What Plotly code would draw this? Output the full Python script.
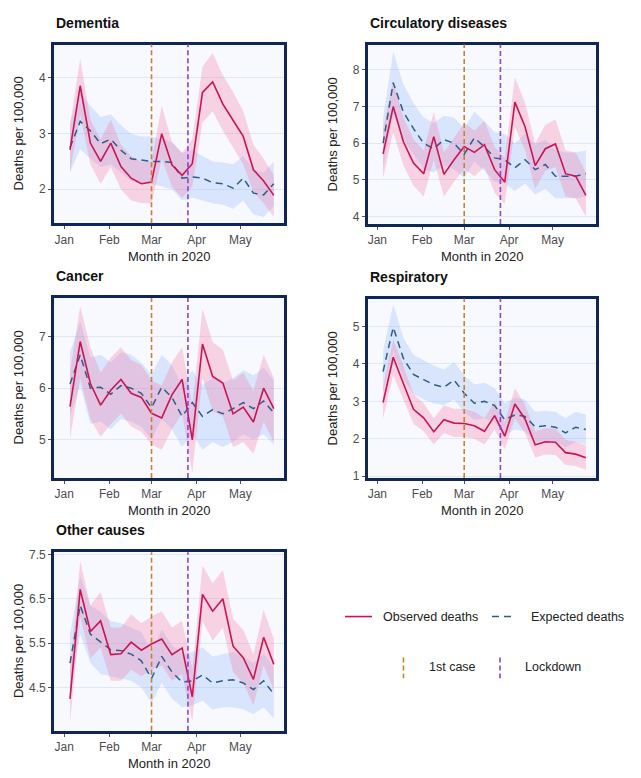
import plotly.graph_objects as go
import pandas as pd

# ---------------- data ----------------
weeks = pd.date_range("2020-01-05", periods=21, freq="7D").strftime("%Y-%m-%d").tolist()

panel_titles = ["Dementia", "Circulatory diseases", "Cancer", "Respiratory", "Other causes"]

dementia_obs = [2.71, 3.86, 2.83, 2.50, 2.83, 2.41, 2.20, 2.10, 2.13, 3.00, 2.44, 2.25, 2.46, 3.74, 3.93, 3.53, 3.24, 2.95, 2.35, 2.15, 1.89]
dementia_obs_lo = [2.30, 3.35, 2.45, 2.10, 2.40, 2.00, 1.80, 1.75, 1.75, 2.55, 2.05, 1.85, 2.05, 3.20, 3.40, 3.05, 2.75, 2.45, 1.95, 1.75, 1.50]
dementia_obs_hi = [3.15, 4.35, 3.25, 2.90, 3.25, 2.80, 2.60, 2.50, 2.50, 3.50, 2.85, 2.65, 2.90, 4.20, 4.45, 4.05, 3.75, 3.40, 2.80, 2.55, 2.25]
dementia_exp = [2.75, 3.22, 3.05, 2.82, 2.90, 2.70, 2.55, 2.53, 2.50, 2.50, 2.48, 2.20, 2.22, 2.20, 2.12, 2.10, 2.02, 2.20, 1.93, 1.90, 2.10]
dementia_exp_lo = [2.30, 2.72, 2.55, 2.40, 2.45, 2.30, 2.15, 2.10, 2.10, 2.05, 2.00, 1.80, 1.85, 1.80, 1.75, 1.72, 1.65, 1.80, 1.55, 1.50, 1.70]
dementia_exp_hi = [3.20, 3.75, 3.50, 3.30, 3.35, 3.15, 3.00, 2.95, 2.95, 2.90, 2.85, 2.65, 2.70, 2.60, 2.50, 2.48, 2.45, 2.60, 2.35, 2.30, 2.50]

circ_obs = [5.71, 7.00, 6.04, 5.46, 5.17, 6.18, 5.15, 5.55, 5.91, 5.75, 5.96, 5.28, 4.94, 7.12, 6.45, 5.39, 5.85, 5.98, 5.17, 5.10, 4.58]
circ_obs_lo = [5.05, 6.30, 5.40, 4.85, 4.55, 5.55, 4.55, 4.95, 5.30, 5.10, 5.35, 4.65, 4.35, 6.45, 5.80, 4.75, 5.25, 5.35, 4.55, 4.50, 4.00]
circ_obs_hi = [6.40, 7.70, 6.70, 6.10, 5.80, 6.85, 5.75, 6.15, 6.55, 6.35, 6.60, 5.90, 5.60, 7.80, 7.10, 6.00, 6.50, 6.65, 5.80, 5.75, 5.20]
circ_exp = [6.00, 7.65, 6.85, 6.40, 6.00, 5.85, 6.10, 6.00, 5.70, 6.15, 5.90, 5.60, 5.55, 5.33, 5.55, 5.28, 5.42, 5.10, 5.10, 5.10, 5.17]
circ_exp_lo = [5.30, 6.80, 6.10, 5.70, 5.30, 5.20, 5.40, 5.30, 5.05, 5.50, 5.25, 4.95, 4.90, 4.70, 4.90, 4.60, 4.75, 4.50, 4.50, 4.50, 4.55]
circ_exp_hi = [6.70, 8.50, 7.60, 7.10, 6.70, 6.55, 6.75, 6.70, 6.40, 6.85, 6.60, 6.30, 6.25, 6.00, 6.25, 5.95, 6.10, 5.80, 5.75, 5.75, 5.80]

cancer_obs = [5.64, 6.91, 6.09, 5.67, 5.96, 6.17, 5.90, 5.82, 5.51, 5.42, 5.87, 6.17, 4.99, 6.86, 6.23, 6.10, 5.50, 5.63, 5.34, 6.00, 5.60]
cancer_obs_lo = [5.02, 6.20, 5.40, 5.05, 5.30, 5.50, 5.25, 5.15, 4.90, 4.80, 5.20, 5.50, 4.35, 6.20, 5.55, 5.45, 4.85, 4.95, 4.72, 5.35, 4.95]
cancer_obs_hi = [6.30, 7.60, 6.80, 6.30, 6.60, 6.80, 6.55, 6.45, 6.15, 6.05, 6.50, 6.80, 5.65, 7.55, 6.90, 6.75, 6.15, 6.30, 5.95, 6.65, 6.20]
cancer_exp = [6.08, 6.65, 6.00, 6.02, 5.88, 6.05, 6.00, 5.90, 5.62, 6.02, 5.82, 5.45, 5.72, 5.45, 5.58, 5.50, 5.60, 5.72, 5.60, 5.75, 5.52]
cancer_exp_lo = [5.45, 6.05, 5.30, 5.35, 5.20, 5.40, 5.35, 5.25, 5.00, 5.40, 5.20, 4.85, 5.10, 4.80, 4.95, 4.85, 4.95, 5.10, 5.00, 5.10, 4.90]
cancer_exp_hi = [6.70, 7.30, 6.60, 6.65, 6.50, 6.70, 6.65, 6.50, 6.25, 6.65, 6.45, 6.05, 6.35, 6.05, 6.20, 6.10, 6.20, 6.35, 6.25, 6.40, 6.15]

resp_obs = [2.97, 4.18, 3.48, 2.79, 2.56, 2.19, 2.51, 2.42, 2.41, 2.35, 2.20, 2.62, 2.07, 2.93, 2.53, 1.84, 1.92, 1.91, 1.63, 1.59, 1.49]
resp_obs_lo = [2.55, 3.70, 3.05, 2.40, 2.20, 1.85, 2.15, 2.05, 2.05, 2.00, 1.85, 2.25, 1.72, 2.55, 2.15, 1.50, 1.58, 1.57, 1.30, 1.27, 1.17]
resp_obs_hi = [3.40, 4.65, 3.95, 3.20, 2.95, 2.55, 2.90, 2.80, 2.80, 2.72, 2.55, 3.00, 2.45, 3.35, 2.92, 2.20, 2.28, 2.27, 1.97, 1.93, 1.82]
resp_exp = [3.80, 4.98, 4.15, 3.72, 3.58, 3.45, 3.38, 3.57, 3.22, 2.95, 3.00, 2.89, 2.51, 2.64, 2.60, 2.32, 2.35, 2.31, 2.16, 2.31, 2.25]
resp_exp_lo = [3.25, 4.35, 3.60, 3.20, 3.05, 2.95, 2.90, 3.05, 2.70, 2.50, 2.55, 2.45, 2.10, 2.25, 2.20, 1.90, 1.95, 1.92, 1.77, 1.92, 1.85]
resp_exp_hi = [4.35, 5.60, 4.70, 4.25, 4.10, 3.95, 3.85, 4.05, 3.70, 3.45, 3.50, 3.35, 2.95, 3.10, 3.05, 2.72, 2.75, 2.72, 2.55, 2.72, 2.65]

other_obs = [4.24, 6.71, 5.76, 6.00, 5.24, 5.26, 5.52, 5.34, 5.48, 5.59, 5.24, 5.39, 4.29, 6.60, 6.22, 6.50, 5.43, 5.17, 4.68, 5.63, 5.02]
other_obs_lo = [3.70, 6.10, 5.15, 5.40, 4.65, 4.65, 4.90, 4.75, 4.90, 5.00, 4.65, 4.80, 3.75, 6.00, 5.55, 5.85, 4.85, 4.60, 4.10, 5.00, 4.45]
other_obs_hi = [4.85, 7.35, 6.35, 6.65, 5.85, 5.85, 6.15, 5.95, 6.10, 6.22, 5.85, 6.00, 4.90, 7.25, 6.85, 7.15, 6.05, 5.80, 5.25, 6.25, 5.60]
other_exp = [5.05, 6.35, 5.70, 5.52, 5.35, 5.33, 5.25, 5.10, 4.70, 5.20, 4.85, 4.62, 4.65, 4.78, 4.60, 4.65, 4.67, 4.60, 4.45, 4.65, 4.35]
other_exp_lo = [4.40, 5.70, 5.05, 4.80, 4.75, 4.70, 4.65, 4.50, 4.15, 4.60, 4.25, 4.05, 4.10, 4.20, 4.00, 4.05, 4.05, 4.00, 3.90, 4.05, 3.80]
other_exp_hi = [5.70, 7.00, 6.35, 6.20, 6.00, 5.95, 5.85, 5.75, 5.30, 5.80, 5.45, 5.25, 5.30, 5.40, 5.20, 5.25, 5.30, 5.20, 5.05, 5.25, 4.95]

first_case_date = "2020-03-01"
lockdown_date = "2020-03-26"

month_ticks = ["2020-01-01", "2020-02-01", "2020-03-01", "2020-04-01", "2020-05-01"]
month_labels = ["Jan", "Feb", "Mar", "Apr", "May"]

y_ticks = [[2, 3, 4], [4, 5, 6, 7, 8], [5, 6, 7], [1, 2, 3, 4, 5], [4.5, 5.5, 6.5, 7.5]]
y_ranges = [[1.39, 4.6], [3.8, 8.69], [4.25, 7.76], [0.955, 5.75], [3.52, 7.55]]

series = [
    (dementia_obs, dementia_obs_lo, dementia_obs_hi, dementia_exp, dementia_exp_lo, dementia_exp_hi),
    (circ_obs, circ_obs_lo, circ_obs_hi, circ_exp, circ_exp_lo, circ_exp_hi),
    (cancer_obs, cancer_obs_lo, cancer_obs_hi, cancer_exp, cancer_exp_lo, cancer_exp_hi),
    (resp_obs, resp_obs_lo, resp_obs_hi, resp_exp, resp_exp_lo, resp_exp_hi),
    (other_obs, other_obs_lo, other_obs_hi, other_exp, other_exp_lo, other_exp_hi),
]

# ---------------- layout geometry (window pixels) ----------------
# The page body has an 8px default margin, so the figure is 8px smaller
# than the window and all window coordinates are shifted by 8px.
OFF = 8
W, H = 641 - OFF, 778 - OFF
# (left, right, top, bottom) in window pixels
boxes = [
    (54.0, 284.0, 40.0, 221.0),
    (367.7, 596.0, 40.0, 221.7),
    (54.0, 284.0, 296.7, 479.0),
    (367.7, 596.0, 297.3, 479.0),
    (54.0, 284.0, 554.3, 735.3),
]
x_ranges = [
    ["2019-12-25", "2020-05-31"],
    ["2019-12-25 09:00", "2020-05-31"],
    ["2019-12-25", "2020-05-31"],
    ["2019-12-25 09:00", "2020-05-31"],
    ["2019-12-25", "2020-05-31"],
]

OBS = "#cc1452"
EXP = "#2e5d8c"
OBS_FILL = "rgba(242,120,165,0.30)"
EXP_FILL = "rgba(120,170,250,0.25)"
ORANGE = "#c8822e"
PURPLE = "#8b45cf"
FRAME = "#102558"
GRID = "#dfe8f8"
BG = "#f8f9fe"
FONT = "Liberation Sans, Arial, sans-serif"
TXT = "#222222"

def px(x):
    return (x - OFF) / W

def py(y):
    return 1 - (y - OFF) / H

fig = go.Figure()
annotations = []
shapes = []

for i, (title, box) in enumerate(zip(panel_titles, boxes)):
    obs, obs_lo, obs_hi, exp, exp_lo, exp_hi = series[i]
    n = "" if i == 0 else str(i + 1)
    xa, ya = "x" + n, "y" + n
    l, r, t, b = box
    # plot background
    shapes.append(dict(type="rect", xref="paper", yref="paper", x0=px(l), x1=px(r), y0=py(b), y1=py(t),
                       fillcolor=BG, line=dict(width=0), layer="below"))
    # ribbons
    fig.add_trace(go.Scatter(x=weeks + weeks[::-1], y=exp_hi + exp_lo[::-1], fill="toself",
                             fillcolor=EXP_FILL, line=dict(width=0), mode="lines",
                             hoverinfo="skip", showlegend=False, xaxis=xa, yaxis=ya))
    fig.add_trace(go.Scatter(x=weeks + weeks[::-1], y=obs_hi + obs_lo[::-1], fill="toself",
                             fillcolor=OBS_FILL, line=dict(width=0), mode="lines",
                             hoverinfo="skip", showlegend=False, xaxis=xa, yaxis=ya))
    fig.add_trace(go.Scatter(x=weeks, y=exp, mode="lines", name="Expected deaths",
                             line=dict(color=EXP, width=1.5, dash="7px,5px"),
                             showlegend=False, xaxis=xa, yaxis=ya))
    fig.add_trace(go.Scatter(x=weeks, y=obs, mode="lines", name="Observed deaths",
                             line=dict(color=OBS, width=1.6),
                             showlegend=False, xaxis=xa, yaxis=ya))
    # vertical event lines
    for d, c in ((first_case_date, ORANGE), (lockdown_date, PURPLE)):
        shapes.append(dict(type="line", xref=xa, yref=ya + " domain", x0=d, x1=d, y0=0, y1=1,
                           line=dict(color=c, width=1.6, dash="5px,3px"), layer="above"))

    common = dict(showline=True, mirror=True, linecolor=FRAME, linewidth=2.8,
                  ticks="outside", ticklen=3, tickcolor="#555555", tickwidth=1,
                  tickfont=dict(family=FONT, size=12, color="#4d4d4d"), zeroline=False)
    fig.layout["xaxis" + n] = dict(domain=[px(l), px(r)], anchor=ya, type="date",
                                   range=x_ranges[i], tickvals=month_ticks, ticktext=month_labels,
                                   showgrid=False, **common)
    fig.layout["yaxis" + n] = dict(domain=[py(b), py(t)], anchor=xa, range=y_ranges[i],
                                   tickvals=y_ticks[i], showgrid=True, gridcolor=GRID, gridwidth=1,
                                   **common)
    # panel title
    annotations.append(dict(text="<b>" + title + "</b>", x=px(l), y=py(t - 22), xref="paper",
                            yref="paper", xanchor="left", yanchor="middle", showarrow=False,
                            font=dict(family=FONT, size=14, color="#111111")))
    # axis titles
    annotations.append(dict(text="Month in 2020", x=px((l + r) / 2), y=py(b + 33.5), xref="paper",
                            yref="paper", xanchor="center", yanchor="middle", showarrow=False,
                            font=dict(family=FONT, size=13, color=TXT)))
    annotations.append(dict(text="Deaths per 100,000", x=px(l - 35.5), y=py((t + b) / 2), xref="paper",
                            yref="paper", xanchor="center", yanchor="middle", showarrow=False,
                            textangle=-90, font=dict(family=FONT, size=13, color=TXT)))

# ---------------- legend (drawn manually) ----------------
def seg(x0, y0, x1, y1, color, dash=None, width=1.6):
    line = dict(color=color, width=width)
    if dash:
        line["dash"] = dash
    shapes.append(dict(type="line", xref="paper", yref="paper", x0=px(x0), x1=px(x1),
                       y0=py(y0), y1=py(y1), line=line))

def label(text, x, y):
    annotations.append(dict(text=text, x=px(x), y=py(y), xref="paper", yref="paper",
                            xanchor="left", yanchor="middle", showarrow=False,
                            font=dict(family=FONT, size=12.5, color=TXT)))

seg(345, 619.5, 372, 619.5, OBS)
label("Observed deaths", 381, 619.5)
seg(492, 619.5, 515, 619.5, EXP, dash="7px,5px")
label("Expected deaths", 529, 619.5)
seg(403.5, 661, 403.5, 682, ORANGE, dash="5px,3px")
label("1st case", 427, 670.5)
seg(500, 661, 500, 682, PURPLE, dash="5px,3px")
label("Lockdown", 523, 670.5)

fig.update_layout(width=W, height=H, autosize=False, margin=dict(l=0, r=0, t=0, b=0),
                  paper_bgcolor="white", plot_bgcolor=BG, showlegend=False,
                  annotations=annotations, shapes=shapes,
                  font=dict(family=FONT))

fig.write_html("out.html")
